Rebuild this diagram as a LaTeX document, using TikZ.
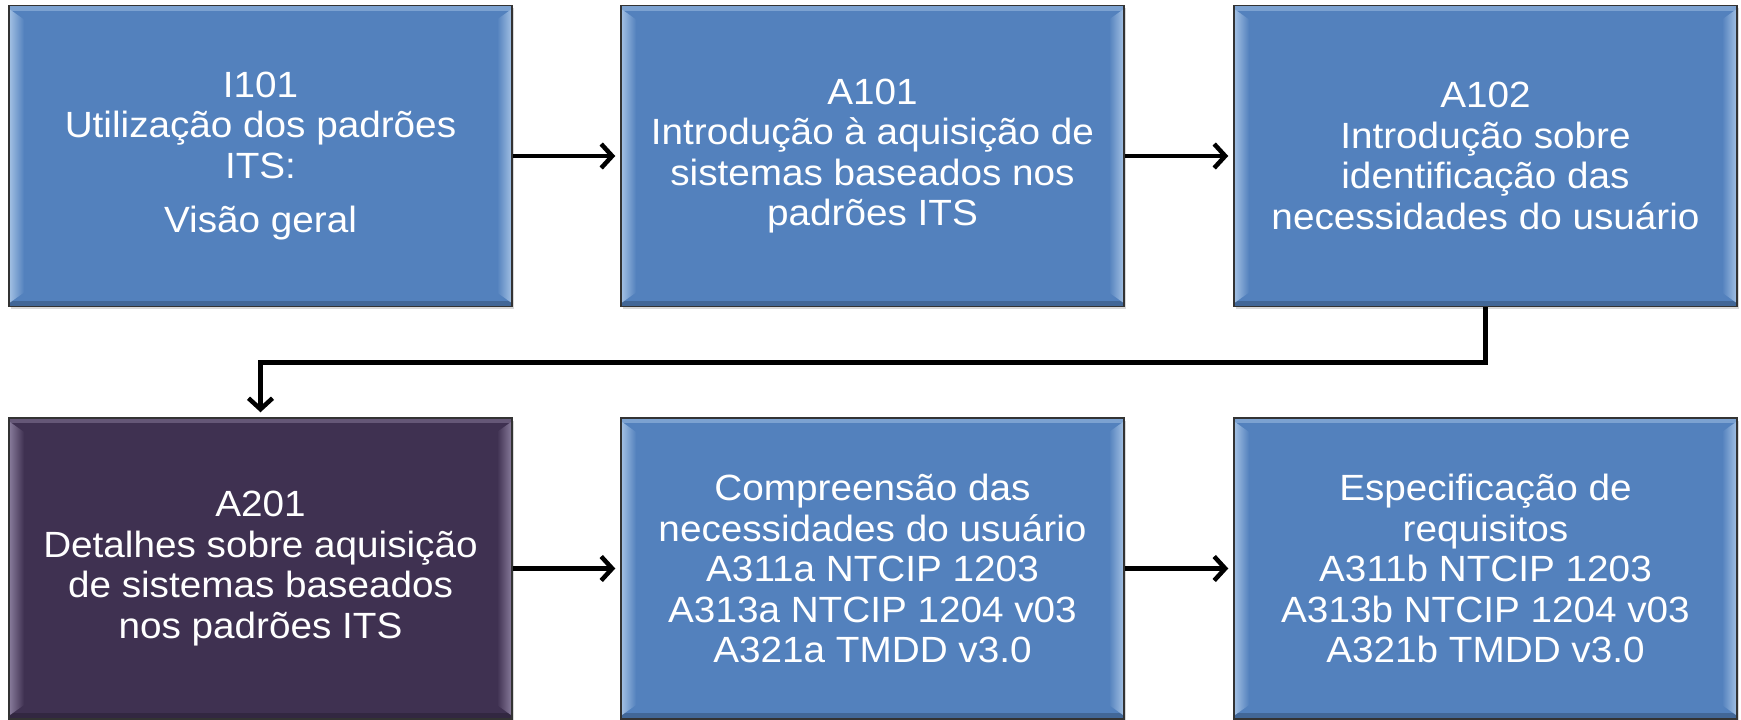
\documentclass[tikz,border=0pt]{standalone}
\usepackage{fontspec}
\setmainfont{Liberation Sans}[FakeStretch=1.06]
\usetikzlibrary{arrows.meta,shadows}
\definecolor{boxblue}{HTML}{5381BD}
\definecolor{hlblue}{HTML}{DCEEFF}
\definecolor{boxpurple}{HTML}{3F3151}
\definecolor{hlpurple}{HTML}{BDB0D0}
\definecolor{edgegray}{HTML}{333333}
\tikzset{
  bbox/.style 2 args={draw=edgegray, line width=1.5pt, fill=#1,
    minimum width=503pt, minimum height=301pt, inner sep=0pt,
    text=white, align=center, font=\fontsize{36.5}{40.5}\selectfont,
    drop shadow={shadow xshift=1.5pt, shadow yshift=-2.5pt, opacity=0.3},
    path picture={
      \fill[#2!30!#1] ([yshift=-0.5pt]path picture bounding box.north west)
        rectangle ([yshift=-5pt]path picture bounding box.north east);
      \fill[black!20!#1] ([yshift=0.5pt]path picture bounding box.south west)
        rectangle ([yshift=6pt]path picture bounding box.south east);
      \shade[left color=#2!55!#1, middle color=#2, right color=#1]
        ([xshift=1pt,yshift=-4pt]path picture bounding box.north west) --
        ([xshift=15pt,yshift=-14pt]path picture bounding box.north west) --
        ([xshift=15pt,yshift=14pt]path picture bounding box.south west) --
        ([xshift=1pt,yshift=4pt]path picture bounding box.south west) -- cycle;
      \shade[left color=#1, middle color=#2, right color=#2!55!#1]
        ([xshift=-1pt,yshift=-4pt]path picture bounding box.north east) --
        ([xshift=-15pt,yshift=-14pt]path picture bounding box.north east) --
        ([xshift=-15pt,yshift=14pt]path picture bounding box.south east) --
        ([xshift=-1pt,yshift=4pt]path picture bounding box.south east) -- cycle;
    }},
  conn/.style={line width=4.5pt, -{Straight Barb[length=11pt 0, width=24pt 0]},
    shorten >=5pt}
}
\begin{document}
\begin{tikzpicture}[x=1pt,y=-1pt]
\useasboundingbox (0,0) rectangle (1741,720);
\node[bbox={boxblue}{hlblue}] (b1) at (260.5,156)
  {I101\\Utilização dos padrões\\ITS:\\[14pt]Visão geral};
\node[bbox={boxblue}{hlblue}] (b2) at (872.5,156)
  {A101\\Introdução à aquisição de\\sistemas baseados nos\\padrões ITS};
\node[bbox={boxblue}{hlblue}] (b3) at (1485.5,156)
  {A102\\Introdução sobre\\identificação das\\necessidades do usuário};
\node[bbox={boxpurple}{hlpurple}] (b4) at (260.5,568.5)
  {A201\\Detalhes sobre aquisição\\de sistemas baseados\\nos padrões ITS};
\node[bbox={boxblue}{hlblue}] (b5) at (872.5,568.5)
  {Compreensão das\\necessidades do usuário\\A311a NTCIP 1203\\A313a NTCIP 1204 v03\\A321a TMDD v3.0};
\node[bbox={boxblue}{hlblue}] (b6) at (1485.5,568.5)
  {Especificação de\\requisitos\\A311b NTCIP 1203\\A313b NTCIP 1204 v03\\A321b TMDD v3.0};
\draw[conn] (b1) -- (b2);
\draw[conn] (b2) -- (b3);
\draw[conn] (b3.south) -- ++(0,55) -| (b4.north);
\draw[conn] (b4) -- (b5);
\draw[conn] (b5) -- (b6);
\end{tikzpicture}
\end{document}
